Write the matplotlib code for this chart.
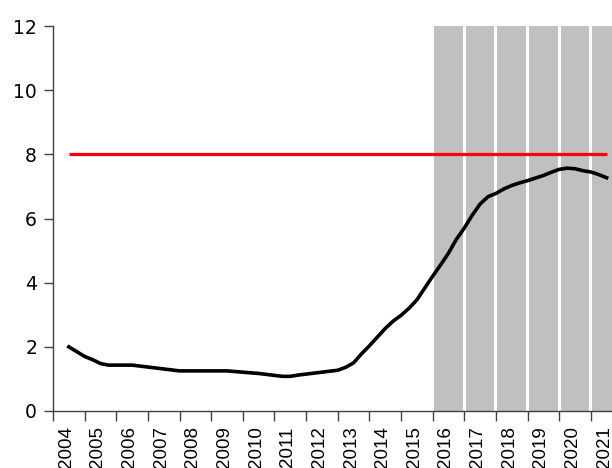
import numpy as np
import matplotlib.pyplot as plt

# quarterly series, positioned in fractional years
quarters = np.arange(2004.5, 2021.51, 0.25)
values = [
    2.00, 1.85, 1.70, 1.60, 1.48, 1.43, 1.43, 1.43,
    1.43, 1.40, 1.37, 1.34, 1.31, 1.28, 1.25, 1.25,
    1.25, 1.25, 1.25, 1.25, 1.25, 1.23, 1.21, 1.19,
    1.17, 1.14, 1.11, 1.08, 1.08, 1.12, 1.15, 1.18,
    1.21, 1.24, 1.27, 1.36, 1.50, 1.78, 2.03, 2.30,
    2.57, 2.80, 2.98, 3.20, 3.46, 3.83, 4.20, 4.55,
    4.92, 5.35, 5.70, 6.10, 6.45, 6.68, 6.78, 6.92,
    7.03, 7.11, 7.18, 7.26, 7.34, 7.44, 7.53, 7.57,
    7.55, 7.49, 7.45, 7.37, 7.27,
]
target = 8
years = list(range(2004, 2022))
forecast_years = [2016, 2017, 2018, 2019, 2020, 2021]

fig = plt.figure(figsize=(6.12, 4.68), dpi=100)
ax = fig.add_axes([53 / 612, 57 / 468, 559 / 612, 385 / 468])

# shaded forecast years
ax.bar([y + 0.5 for y in forecast_years], [12] * len(forecast_years),
       width=0.905, color='#c0c0c0', zorder=1)

ax.plot([2004.5, 2021.5], [target, target], color='#ff0000', lw=2.3,
        solid_capstyle='butt', zorder=2)
ax.plot(quarters, values, color='black', lw=2.6, zorder=3)

ax.set_xlim(2004, 2021.67)
ax.set_ylim(0, 12)
ax.set_yticks(range(0, 13, 2))

# year labels sit inside each year's slot, tick marks on the year boundaries
ax.set_xticks([y + 0.42 for y in years])
ax.set_xticklabels([str(y) for y in years], rotation=90, fontsize=13.5,
                   family='Liberation Sans', va='top')
ax.set_xticks(years, minor=True)
ax.tick_params(axis='x', which='major', length=0, pad=11)
ax.tick_params(axis='x', which='minor', length=7, width=1, color='#404040')
ax.tick_params(axis='y', length=6.5, width=1, color='#404040', labelsize=13.5, pad=5)

for s in ['top', 'right']:
    ax.spines[s].set_visible(False)
for s in ['left', 'bottom']:
    ax.spines[s].set_color('#404040')
    ax.spines[s].set_linewidth(1)

fig.savefig('out.png', dpi=100)
